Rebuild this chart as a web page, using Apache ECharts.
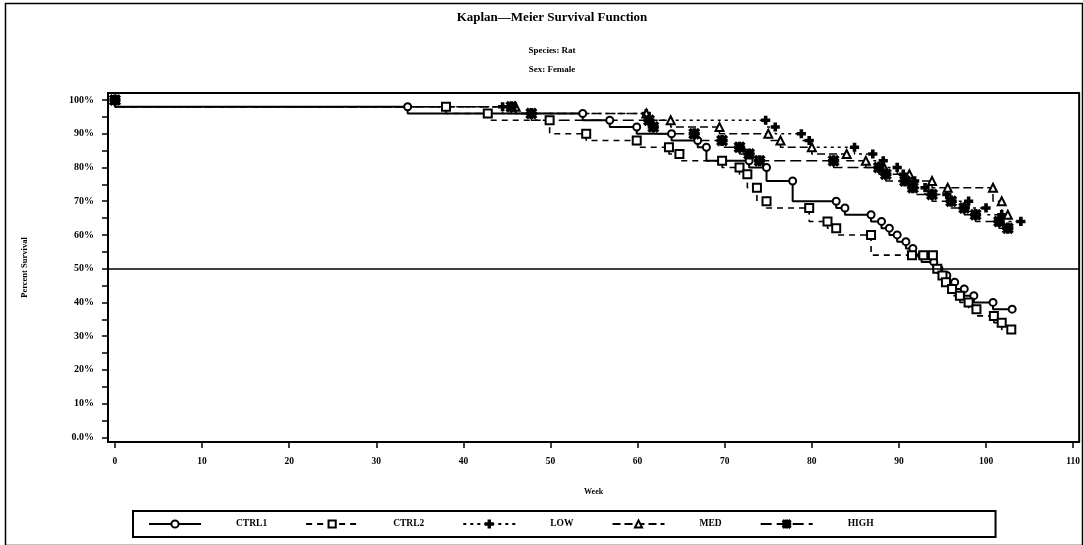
<!DOCTYPE html>
<html>
<head>
<meta charset="utf-8">
<script src="https://cdn.jsdelivr.net/npm/echarts@6/dist/echarts.min.js"></script>
<style>
html,body{margin:0;padding:0;background:#fff;}
#chart{width:1083px;height:545px;}
</style>
</head>
<body>
<div id="chart"></div>
<script>
// week, percent survival (marker points, curve steps down at each marker)
var ctrl1 = [[0,100],[33.6,98],[53.7,96],[56.8,94],[59.9,92],[63.9,90],[66.9,88],[67.9,86],[72.8,82],[74.8,80],[77.8,76],[82.8,70],[83.8,68],[86.8,66],[88,64],[88.9,62],[89.8,60],[90.8,58],[91.6,56],[92.6,54],[94,52],[94.6,50],[95.5,48],[96.4,46],[97.5,44],[98.6,42],[100.8,40],[103,38]];
var ctrl2 = [[0,100],[38,98],[42.8,96],[49.9,94],[54.1,90],[59.9,88],[63.6,86],[64.8,84],[69.7,82],[71.7,80],[72.6,78],[73.7,74],[74.8,70],[79.7,68],[81.8,64],[82.8,62],[86.8,60],[91.5,54],[92.8,54],[93.9,54],[94.4,50],[95,48],[95.4,46],[96.1,44],[97,42],[98,40],[98.9,38],[100.9,36],[101.8,34],[102.9,32]];
var low = [[0,100],[44.5,98],[61,96],[74.7,94],[75.8,92],[78.8,90],[79.7,88],[84.9,86],[87,84],[88.2,82],[89.8,80],[90.5,78],[91.8,76],[93,74],[95.5,72],[98,70],[100,68],[101.8,66],[104,64]];
var med = [[0,100],[46,98],[61,96],[63.8,94],[69.4,92],[75,90],[76.4,88],[80,86],[84,84],[86.2,82],[88.3,80],[91.2,78],[93.8,76],[95.6,74],[100.8,74],[101.8,70],[102.5,66]];
var high = [[0,100],[45.5,98],[47.8,96],[61.3,94],[61.8,92],[66.5,90],[69.7,88],[71.7,86],[72.8,84],[74,82],[82.5,82],[87.7,80],[88.5,78],[90.7,76],[91.6,74],[93.8,72],[96,70],[97.5,68],[98.8,66],[101.5,64],[102.5,62]];

var xTicks = [0,10,20,30,40,50,60,70,80,90,100,110];
var yTicks = [0,10,20,30,40,50,60,70,80,90,100];
var yMinor = [0,5,10,15,20,25,30,35,40,45,50,55,60,65,70,75,80,85,90,95,100];

var FONT = 'Liberation Serif';
var plusPath = 'path://M4,0h2v4h4v2h-4v4h-2v-4h-4v-2h4z';
var starPath = 'path://M4.2,0H5.8V10H4.2Z M0,4.2H10V5.8H0Z M1.1,0L10,8.9L8.9,10L0,1.1Z M8.9,0L10,1.1L1.1,10L0,8.9Z';

function kmSeries(name, data, symbol, size, dash, width){
    return {
        name: name,
        type: 'line',
        step: 'start',
        data: data,
        symbol: symbol,
        symbolSize: size,
        showAllSymbol: true,
        lineStyle: {color: '#000', width: width, type: dash},
        itemStyle: {color: '#000', borderColor: '#000', borderWidth: 2.2},
        emphasis: {disabled: true}
    };
}

var chart = echarts.init(document.getElementById('chart'));
var series = [
    kmSeries('CTRL1', ctrl1, 'emptyCircle', 7, 'solid', 2),
    kmSeries('CTRL2', ctrl2, 'emptyRect', 8, [6,5], 1.6),
    kmSeries('LOW', low, plusPath, 7, [3,4], 1.4),
    kmSeries('MED', med, 'emptyTriangle', 8, [8,4], 1.5),
    kmSeries('HIGH', high, starPath, 9, [11,5], 1.5)
];
series[0].markLine = {
    silent: true,
    symbol: 'none',
    label: {show: false},
    lineStyle: {color: '#000', width: 1.6, type: 'solid'},
    data: [{yAxis: 50}]
};

var option = {
    animation: false,
    backgroundColor: '#fff',
    title: [
        {text: 'Kaplan\u2014Meier Survival Function', left: 547, top: 6, textAlign: 'center',
         textStyle: {fontFamily: FONT, fontSize: 13, fontWeight: 'bold', color: '#000'}},
        {text: 'Species: Rat', left: 547, top: 41, textAlign: 'center',
         textStyle: {fontFamily: FONT, fontSize: 9, fontWeight: 'bold', color: '#000'}},
        {text: 'Sex: Female', left: 547, top: 60, textAlign: 'center',
         textStyle: {fontFamily: FONT, fontSize: 9, fontWeight: 'bold', color: '#000'}}
    ],
    grid: {
        left: 108, top: 93, width: 972, height: 349,
        show: true, borderColor: '#000', borderWidth: 2, backgroundColor: 'transparent'
    },
    legend: {
        left: 133, top: 511,
        padding: [8, 122, 8, 15],
        itemWidth: 52, itemHeight: 9, itemGap: 38,
        borderColor: '#000', borderWidth: 2,
        textStyle: {fontFamily: FONT, fontSize: 9.5, fontWeight: 'bold', color: '#000', padding: [0,0,0,30]},
        data: ['CTRL1','CTRL2','LOW','MED','HIGH']
    },
    xAxis: {
        type: 'value',
        min: -0.8, max: 110.69,
        name: 'Week', nameLocation: 'middle', nameGap: 46,
        nameTextStyle: {fontFamily: FONT, fontSize: 8, fontWeight: 'bold', color: '#000'},
        axisLine: {show: true, onZero: false, lineStyle: {color: '#000', width: 2}},
        axisTick: {show: true, inside: false, length: 6, lineStyle: {color: '#000', width: 1.5}, customValues: xTicks},
        axisLabel: {fontFamily: FONT, fontSize: 9.5, fontWeight: 'bold', color: '#000', margin: 15, customValues: xTicks},
        splitLine: {show: false}
    },
    yAxis: {
        type: 'value',
        min: -1.39, max: 102.08,
        name: 'Percent Survival', nameLocation: 'middle', nameGap: 79, nameRotate: 90,
        nameTextStyle: {fontFamily: FONT, fontSize: 8.5, fontWeight: 'bold', color: '#000'},
        axisLine: {show: true, onZero: false, lineStyle: {color: '#000', width: 2}},
        axisTick: {show: true, inside: false, length: 6, lineStyle: {color: '#000', width: 1.5}, customValues: yMinor},
        axisLabel: {
            fontFamily: FONT, fontSize: 10, fontWeight: 'bold', color: '#000', margin: 14,
            customValues: yTicks,
            formatter: function(v){ return v === 0 ? '0.0%' : v + '%'; }
        },
        splitLine: {show: false}
    },
    graphic: [
        {type: 'rect', left: 3, top: 1, shape: {width: 1077, height: 542},
         style: {fill: 'none', stroke: '#000', lineWidth: 1.5}, silent: true}
    ],
    series: series
};
chart.setOption(option);
</script>
</body>
</html>
